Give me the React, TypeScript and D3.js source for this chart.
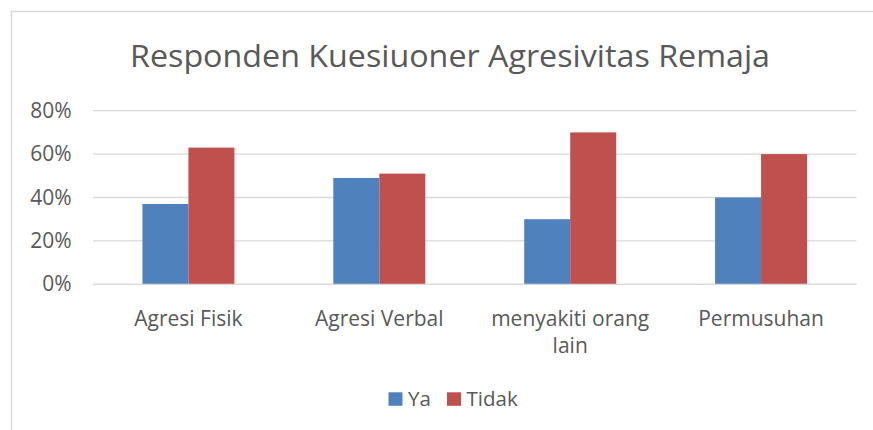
import React from "react";
import * as d3 from "d3";

const categories = ["Agresi Fisik", "Agresi Verbal", "menyakiti orang lain", "Permusuhan"];
const categoryLines = [["Agresi Fisik"], ["Agresi Verbal"], ["menyakiti orang", "lain"], ["Permusuhan"]];
const seriesNames = ["Ya", "Tidak"];
const yaValues = [0.37, 0.49, 0.30, 0.40];
const tidakValues = [0.63, 0.51, 0.70, 0.60];
const yTicks = [0, 0.2, 0.4, 0.6, 0.8];
const title = "Responden Kuesiuoner Agresivitas Remaja";

const colors = ["#4F81BD", "#C0504D"];
const W = 873, H = 430;
const FONT = "'Open Sans', sans-serif";
const TXT = "#595959";

export default function App() {
  const x = d3.scaleBand<string>().domain(categories).range([93, 856.5]).padding(0);
  const inner = d3.scaleBand<string>().domain(seriesNames).range([0, x.bandwidth()]).paddingInner(0).paddingOuter(1.075);
  const y = d3.scaleLinear().domain([0, 0.8]).range([284.3, 110.7]);
  const values = [yaValues, tidakValues];
  const fmt = d3.format(".0%");

  return (
    <svg width={W} height={H} style={{ position: "absolute", left: 0, top: 0 }} fontFamily={FONT}>
      <rect x={0} y={0} width={W} height={H} fill="#fff" />
      <rect x={11.5} y={11.5} width={W + 20} height={H + 20} fill="#fff" stroke="#D9D9D9" strokeWidth={1.5} />
      <text x={450} y={67} textAnchor="middle" fontSize={31.5} fill={TXT} textLength={640} lengthAdjust="spacingAndGlyphs">{title}</text>
      {yTicks.map((t) => (
        <g key={t}>
          <line x1={93} x2={856.5} y1={y(t)} y2={y(t)} stroke="#D9D9D9" strokeWidth={1.3} />
          <text x={71.5} y={y(t) + 7} textAnchor="end" fontSize={21} fill={TXT}>{fmt(t)}</text>
        </g>
      ))}
      {categories.map((c, i) => (
        <g key={c} transform={`translate(${x(c)},0)`}>
          {seriesNames.map((s, j) => (
            <rect key={s} x={inner(s)} y={y(values[j][i])} width={inner.bandwidth()} height={y(0) - y(values[j][i])} fill={colors[j]} />
          ))}
        </g>
      ))}
      <line x1={93} x2={856.5} y1={y(0)} y2={y(0)} stroke="#D9D9D9" strokeWidth={1.3} />
      {categories.map((c, i) => (
        <text key={c} x={(x(c) as number) + x.bandwidth() / 2} y={326} textAnchor="middle" fontSize={21} fill={TXT}>
          {categoryLines[i].map((l, k) => (
            <tspan key={k} x={(x(c) as number) + x.bandwidth() / 2} dy={k === 0 ? 0 : 27}>{l}</tspan>
          ))}
        </text>
      ))}
      {seriesNames.map((s, j) => {
        const lx = [388.5, 447][j];
        return (
          <g key={s}>
            <rect x={lx} y={392.3} width={14} height={13.5} fill={colors[j]} />
            <text x={lx + 19.5} y={406} fontSize={20.5} fill={TXT}>{s}</text>
          </g>
        );
      })}
    </svg>
  );
}
